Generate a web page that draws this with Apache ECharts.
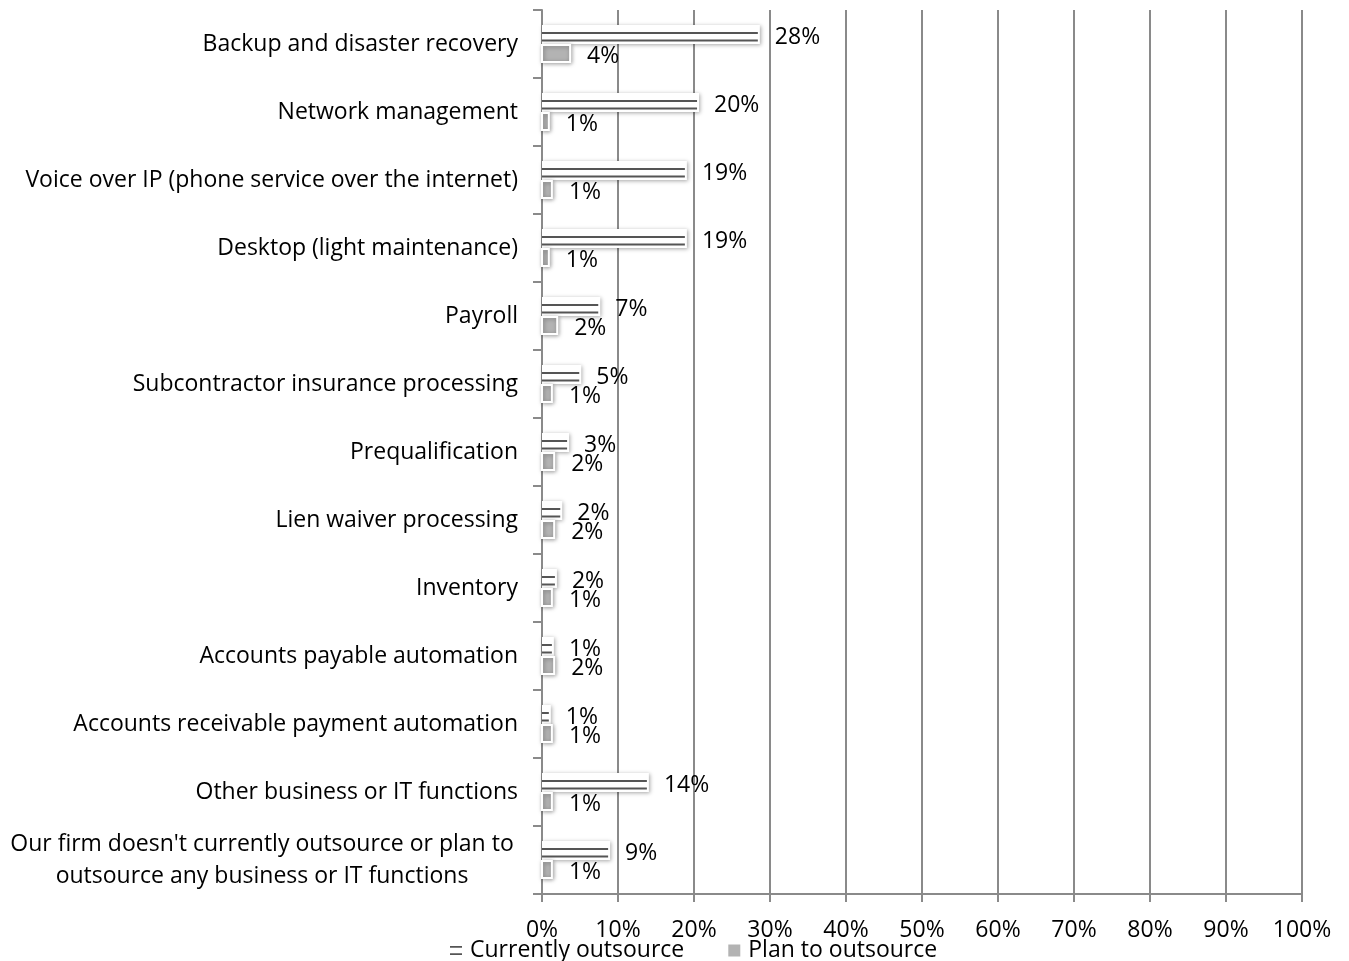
<!DOCTYPE html>
<html><head><meta charset="utf-8">
<script src="https://cdn.jsdelivr.net/npm/echarts@6/dist/echarts.min.js"></script>
<style>html,body{margin:0;padding:0;background:#fff}#c{width:1349px;height:961px}</style>
</head><body><div id="c"></div>
<script>
const categories = [
  "Backup and disaster recovery",
  "Network management",
  "Voice over IP (phone service over the internet)",
  "Desktop (light maintenance)",
  "Payroll",
  "Subcontractor insurance processing",
  "Prequalification",
  "Lien waiver processing",
  "Inventory",
  "Accounts payable automation",
  "Accounts receivable payment automation",
  "Other business or IT functions",
  "Our firm doesn't currently outsource or plan to\noutsource any business or IT functions"
];
const currentlyOutsource = [28.4, 20.4, 18.8, 18.8, 7.4, 4.9, 3.3, 2.4, 1.7, 1.3, 0.9, 13.8, 8.7];
const planToOutsource = [3.7, 0.9, 1.3, 0.9, 2.0, 1.3, 1.6, 1.6, 1.3, 1.6, 1.3, 1.3, 1.3];
const xTicks = [0, 10, 20, 30, 40, 50, 60, 70, 80, 90, 100];

const FONT = "'Open Sans', 'DejaVu Sans', sans-serif";
const FS = 23;
const BW = 19;
const shadow = {shadowBlur: 4, shadowColor: 'rgba(0,0,0,0.35)', shadowOffsetX: 1, shadowOffsetY: 1};

function makeRender(kind) {
  return function (params, api) {
    const v = api.value(0), ci = api.value(1);
    const s = api.coord([0, ci]);
    const e = api.coord([v, ci]);
    const y0 = kind === 'cur' ? s[1] - BW : s[1];
    const w = e[0] - s[0];
    const children = [];
    if (kind === 'cur') {
      children.push({type: 'rect', shape: {x: s[0], y: y0, width: w + 2, height: BW},
        style: Object.assign({fill: '#fff'}, shadow)});
      children.push({type: 'line', shape: {x1: s[0], y1: y0 + 8, x2: e[0], y2: y0 + 8},
        style: {stroke: '#555', lineWidth: 2}});
      children.push({type: 'line', shape: {x1: s[0], y1: y0 + 15.5, x2: e[0], y2: y0 + 15.5},
        style: {stroke: '#555', lineWidth: 2}});
    } else {
      children.push({type: 'rect', shape: {x: s[0], y: y0 + 1, width: w, height: BW - 2},
        style: Object.assign({fill: '#b3b3b3', stroke: '#fff', lineWidth: 2}, shadow)});
    }
    children.push({type: 'text', style: {text: Math.round(v) + '%', x: e[0] + 17, y: y0 + BW / 2 + 3,
      fill: '#000', font: FS + 'px ' + FONT, textVerticalAlign: 'middle', verticalAlign: 'middle'}});
    return {type: 'group', children: children};
  };
}

const chart = echarts.init(document.getElementById('c'));
chart.setOption({
  animation: false,
  grid: {left: 542, right: 47, top: 10, bottom: 67},
  xAxis: {
    type: 'value', min: 0, max: 100, interval: 10,
    axisLine: {show: true, lineStyle: {color: '#8a8a8a', width: 2}},
    axisTick: {show: true, length: 8, lineStyle: {color: '#8a8a8a', width: 2}},
    splitLine: {show: true, lineStyle: {color: '#8a8a8a', width: 2}},
    axisLabel: {formatter: function (v) { return xTicks.indexOf(v) >= 0 ? v + '%' : ''; },
      color: '#000', fontSize: FS, fontFamily: FONT, margin: 25}
  },
  yAxis: {
    type: 'category', data: categories, inverse: true,
    axisLine: {show: true, lineStyle: {color: '#8a8a8a', width: 2}},
    axisTick: {show: true, length: 9, lineStyle: {color: '#8a8a8a', width: 2}},
    axisLabel: {color: '#000', fontSize: FS, fontFamily: FONT, margin: 24,
      formatter: function (v) {
        if (v.indexOf('\n') >= 0) {
          return v.split('\n').map(function (l) { return '{c|' + l + '}'; }).join('\n');
        }
        return v;
      },
      rich: {c: {width: 512, align: 'center', fontSize: FS, fontFamily: FONT, color: '#000', lineHeight: 32}}
    }
  },
  legend: {
    top: 934, left: 445, itemGap: 44, itemWidth: 12, itemHeight: 12,
    textStyle: {fontSize: FS, fontFamily: FONT, color: '#000', padding: [0, 0, 0, 3]},
    data: [
      {name: 'Currently outsource', icon: 'path://M0,0H10V1.5H0Z M0,6H10V7.5H0Z', itemStyle: {color: '#555'}},
      {name: 'Plan to outsource', icon: 'rect', itemStyle: {color: '#b3b3b3'}}
    ]
  },
  series: [
    {name: 'Currently outsource', type: 'custom', renderItem: makeRender('cur'),
      encode: {x: 0, y: 1}, itemStyle: {color: '#555'},
      data: currentlyOutsource.map(function (v, i) { return [v, i]; })},
    {name: 'Plan to outsource', type: 'custom', renderItem: makeRender('plan'),
      encode: {x: 0, y: 1}, itemStyle: {color: '#b3b3b3'},
      data: planToOutsource.map(function (v, i) { return [v, i]; })}
  ]
});
</script></body></html>
